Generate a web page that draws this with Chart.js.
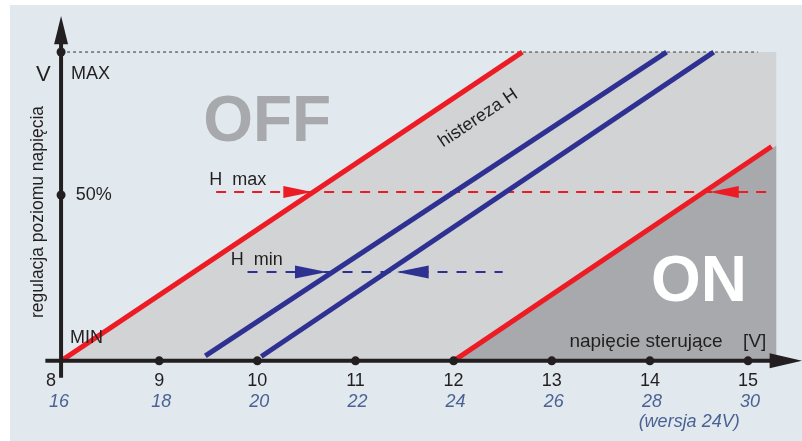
<!DOCTYPE html>
<html>
<head>
<meta charset="utf-8">
<script src="https://cdn.jsdelivr.net/npm/chart.js@4/dist/chart.umd.min.js"></script>
<style>
  html, body { margin: 0; padding: 0; background: #ffffff; }
  #wrap { width: 802px; height: 441px; }
</style>
</head>
<body>
<div id="wrap"><canvas id="hystChart" width="802" height="441"></canvas></div>
<script>
// napiecie sterujace (12V) and wersja 24V
const xTicks = [8, 9, 10, 11, 12, 13, 14, 15];
const xTicks24 = [16, 18, 20, 22, 24, 26, 28, 30];
// regulacja poziomu napiecia
const yTickValues = [0, 53.7, 100];
const yTickLabels = ['MIN', '50%', 'MAX'];

// zones (x, y)
const offZone = [{x: 8, y: 0}, {x: 12.7, y: 100}, {x: 15.29, y: 100}, {x: 15.29, y: 0}];
const onZone = [{x: 12, y: 0}, {x: 15.29, y: 69.7}, {x: 15.29, y: 0}];

// characteristic lines
const redLeft = [{x: 8, y: 0}, {x: 12.7, y: 100}];
const blueLeft = [{x: 9.47, y: 1.6}, {x: 14.17, y: 100}];
const blueRight = [{x: 10.04, y: 1.4}, {x: 14.65, y: 100}];
const redRight = [{x: 12, y: 0}, {x: 15.24, y: 69.4}];
const maxLine = [{x: 8, y: 100}, {x: 15.1, y: 100}];

// hysteresis markers
const hMaxLine = [{x: 9.58, y: 54.7}, {x: 15.2, y: 54.7}];
const hMinLine = [{x: 9.9, y: 28.8}, {x: 12.5, y: 28.8}];
const hMaxArrows = [{x: 10.56, y: 54.7, dir: 1}, {x: 14.61, y: 54.7, dir: -1}];
const hMinArrows = [{x: 10.71, y: 28.8, dir: 1}, {x: 11.42, y: 28.8, dir: -1}];

const INK = '#231f20';
const RED = '#ed1c24';
const BLUE = '#2e3192';
const ITAL = '#4b6293';
const FONT = '"Liberation Sans", Arial, sans-serif';

function lineSet(data, color, width, order, dash) {
    return {
        data: data,
        showLine: true,
        borderColor: color,
        borderWidth: width,
        borderDash: dash || [],
        borderCapStyle: 'butt',
        pointRadius: 0,
        fill: false,
        order: order
    };
}

const decorPlugin = {
    id: 'decor',
    beforeDraw(chart) {
        const ctx = chart.ctx;
        ctx.save();
        ctx.fillStyle = '#e1e9ef';
        ctx.fillRect(10, 5, 792, 436);
        ctx.restore();
    },
    afterDatasetsDraw(chart) {
        const ctx = chart.ctx;
        const xs = chart.scales.x;
        const ys = chart.scales.y;
        const px = v => xs.getPixelForValue(v);
        const py = v => ys.getPixelForValue(v);
        ctx.save();

        // axes
        ctx.strokeStyle = INK;
        ctx.fillStyle = INK;
        ctx.lineWidth = 4;
        ctx.beginPath();
        ctx.moveTo(px(7.84), py(0));
        ctx.lineTo(px(15.25), py(0));
        ctx.moveTo(px(8), py(-5.5));
        ctx.lineTo(px(8), py(103));
        ctx.stroke();
        // arrow heads
        ctx.beginPath();
        ctx.moveTo(px(15.55), py(0));
        ctx.lineTo(px(15.22), py(0) - 7.5);
        ctx.lineTo(px(15.22), py(0) + 7.5);
        ctx.closePath();
        ctx.fill();
        ctx.beginPath();
        ctx.moveTo(px(8), py(111.7));
        ctx.lineTo(px(8) - 7, py(102.5));
        ctx.lineTo(px(8) + 7, py(102.5));
        ctx.closePath();
        ctx.fill();

        // tick dots
        xTicks.forEach(v => {
            if (v === 8) return;
            ctx.beginPath();
            ctx.arc(px(v), py(0), 4.5, 0, Math.PI * 2);
            ctx.fill();
        });
        yTickValues.forEach(v => {
            if (v === 0) return;
            ctx.beginPath();
            ctx.arc(px(8), py(v), 4.5, 0, Math.PI * 2);
            ctx.fill();
        });

        // hysteresis arrows
        function arrow(a, color, len, half) {
            const tx = px(a.x), ty = py(a.y);
            ctx.fillStyle = color;
            ctx.beginPath();
            ctx.moveTo(tx, ty);
            ctx.lineTo(tx - a.dir * len, ty - half);
            ctx.lineTo(tx - a.dir * len, ty + half);
            ctx.closePath();
            ctx.fill();
        }
        hMaxArrows.forEach(a => arrow(a, RED, 29, 6));
        hMinArrows.forEach(a => arrow(a, BLUE, 32, 6.5));

        // x tick labels
        ctx.textAlign = 'center';
        ctx.textBaseline = 'middle';
        xTicks.forEach((v, i) => {
            ctx.fillStyle = INK;
            ctx.font = '18px ' + FONT;
            const dx = v === 8 ? -10 : 0;
            ctx.fillText(String(v), px(v) + dx, 381);
            ctx.fillStyle = ITAL;
            ctx.font = 'italic 18px ' + FONT;
            ctx.fillText(String(xTicks24[i]), px(v) + (v === 8 ? -2 : 2), 402);
        });
        ctx.fillText('(wersja 24V)', px(14.4), 422);

        // y tick labels
        ctx.fillStyle = INK;
        ctx.font = '18px ' + FONT;
        ctx.textAlign = 'left';
        ctx.fillText(yTickLabels[0], px(8.09), py(7.3));
        ctx.fillText(yTickLabels[1], px(8.15), py(yTickValues[1]));
        ctx.fillText(yTickLabels[2], px(8.1), py(92.9));
        ctx.font = '22px ' + FONT;
        ctx.textAlign = 'center';
        ctx.fillText('V', px(7.82), py(92.6));

        // axis titles
        ctx.font = '19px ' + FONT;
        ctx.textAlign = 'left';
        ctx.fillText('napięcie sterujące', px(13.18), py(6.3));
        ctx.fillText('[V]', px(14.95), py(6.3));
        ctx.save();
        ctx.translate(px(7.77), py(48.2));
        ctx.rotate(-Math.PI / 2);
        ctx.textAlign = 'center';
        ctx.font = '17.5px ' + FONT;
        ctx.fillText('regulacja poziomu napięcia', 0, 0);
        ctx.restore();

        // markers text
        ctx.font = '18px ' + FONT;
        ctx.textAlign = 'left';
        ctx.fillText('H  max', px(9.51), py(58.6));
        ctx.fillText('H  min', px(9.73), py(32.7));
        ctx.save();
        ctx.translate(px(12.25), py(78.6));
        ctx.rotate(-33.8 * Math.PI / 180);
        ctx.textAlign = 'center';
        ctx.font = '18px ' + FONT;
        ctx.fillText('histereza H', 0, 0);
        ctx.restore();

        // zone labels
        ctx.textAlign = 'center';
        ctx.font = 'bold 64px ' + FONT;
        ctx.fillStyle = '#a7a9ac';
        ctx.fillText('OFF', px(10.1), py(77));
        ctx.fillStyle = '#ffffff';
        ctx.fillText('ON', px(14.5), py(25.1));

        ctx.restore();
    }
};

const ctx = document.getElementById('hystChart').getContext('2d');
new Chart(ctx, {
    type: 'scatter',
    data: {
        datasets: [
            Object.assign(lineSet(offZone, '#d1d3d4', 0, 10), {fill: 'origin', backgroundColor: '#d1d3d4'}),
            Object.assign(lineSet(onZone, '#a7a9ac', 0, 9), {fill: 'origin', backgroundColor: '#a7a9ac'}),
            lineSet(maxLine, '#6d6e71', 1.5, 8, [3, 3]),
            lineSet(hMaxLine, RED, 2, 7, [10, 8]),
            lineSet(hMinLine, BLUE, 2, 6, [10, 9]),
            lineSet(blueLeft, BLUE, 5, 4),
            lineSet(blueRight, BLUE, 5, 3),
            lineSet(redLeft, RED, 5, 2),
            lineSet(redRight, RED, 5, 1)
        ]
    },
    options: {
        responsive: false,
        animation: false,
        layout: { padding: { left: 12, right: 0, top: 15, bottom: 3 } },
        plugins: {
            legend: { display: false },
            tooltip: { enabled: false }
        },
        scales: {
            x: { type: 'linear', min: 7.5, max: 15.55, display: false },
            y: { type: 'linear', min: -25, max: 112, display: false }
        }
    },
    plugins: [decorPlugin]
});
</script>
</body>
</html>
